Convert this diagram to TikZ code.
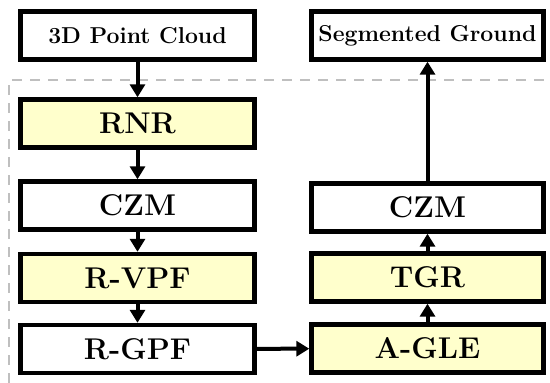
\documentclass[tikz,border=0pt]{standalone}
\usepackage{amsmath}
\usepackage{xcolor}
\usepackage{tikz}
\usetikzlibrary{arrows.meta}

\definecolor{stageyellow}{HTML}{FFFFCC}
\tikzset{
  blk/.style={draw=black, line width=2.2pt, minimum height=24pt, inner sep=0pt, font=\fontsize{15}{18}\selectfont\bfseries},
  lblk/.style={blk, minimum width=117pt},
  rblk/.style={blk, minimum width=116pt},
  io/.style={font=\fontsize{11.5}{14}\selectfont\bfseries},
  stage/.style={fill=stageyellow},
  flow/.style={line width=2pt, -{Triangle[width=7.5pt,length=6.5pt]}}
}

\begin{document}
\begin{tikzpicture}[x=0.5pt,y=-0.5pt]
\useasboundingbox (0,0) rectangle (550,383);
\draw[black!25, line width=0.75pt, dash pattern=on 5pt off 4pt] (9,383) -- (9,80) -- (550,80);

\node[lblk, io] (cloud) at (137.5,35.5) {3D Point Cloud};
\node[lblk, stage] (rnr) at (137.5,123.5) {RNR};
\node[lblk] (czmL) at (137.5,205.5) {CZM};
\node[lblk, stage] (rvpf) at (137.5,278) {R-VPF};
\node[lblk] (rgpf) at (137.5,349) {R-GPF};

\node[rblk, io] (ground) at (427.5,35.5) {Segmented Ground};
\node[rblk] (czmR) at (427.5,207.5) {CZM};
\node[rblk, stage] (tgr) at (427.5,277.5) {TGR};
\node[rblk, stage] (agle) at (427.5,348.5) {A-GLE};

\draw[flow] (cloud) -- (rnr);
\draw[flow] (rnr) -- (czmL);
\draw[flow] (czmL) -- (rvpf);
\draw[flow] (rvpf) -- (rgpf);
\draw[flow] (rgpf) -- (agle);
\draw[flow] (agle) -- (tgr);
\draw[flow] (tgr) -- (czmR);
\draw[flow] (czmR) -- (ground);
\end{tikzpicture}
\end{document}
